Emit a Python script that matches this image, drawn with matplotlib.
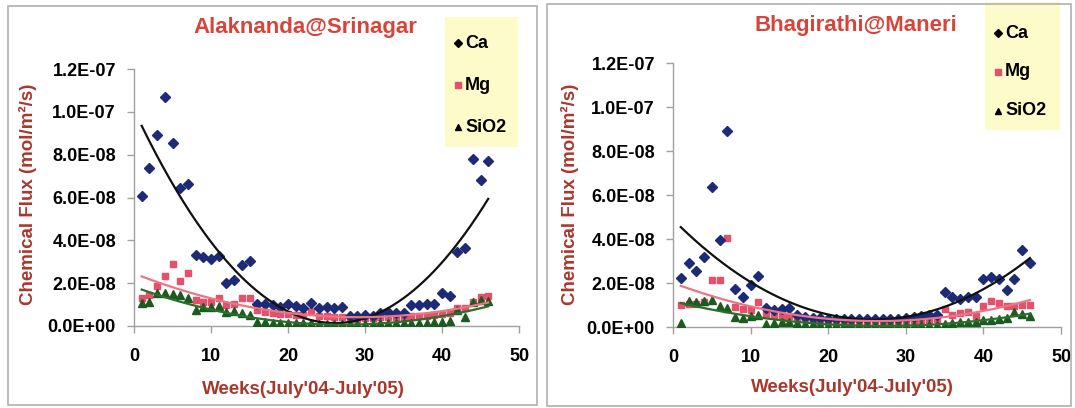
import numpy as np
import matplotlib
matplotlib.use("Agg")
import matplotlib.pyplot as plt
from matplotlib.lines import Line2D
from matplotlib.patches import Rectangle
from matplotlib.ticker import FuncFormatter

plt.rcParams['font.family'] = ['Liberation Sans', 'DejaVu Sans']
plt.rcParams['font.weight'] = 'bold'

# ---------------- data (values in units of 1e-8 mol/m2/s) ----------------
weeks = np.arange(1, 47)

ala_ca = [6.06, 7.36, 8.90, 10.67, 8.53, 6.45, 6.64, 3.30, 3.20, 3.12,
          3.28, 2.00, 2.16, 2.86, 3.02, 1.03, 1.03, 0.98, 0.90, 1.03,
          0.94, 0.83, 1.06, 0.83, 0.87, 0.83, 0.90, 0.47, 0.47, 0.52,
          0.47, 0.59, 0.64, 0.59, 0.59, 0.98, 0.98, 1.03, 1.03, 1.53,
          1.38, 3.44, 3.64, 7.78, 6.80, 7.70]
ala_mg = [1.33, 1.45, 1.87, 2.34, 2.90, 2.08, 2.47, 1.21, 1.13, 1.10,
          1.30, 1.00, 1.05, 1.29, 1.29, 0.75, 0.65, 0.60, 0.55, 0.55,
          0.50, 0.50, 0.68, 0.45, 0.45, 0.42, 0.42, 0.35, 0.35, 0.38,
          0.38, 0.40, 0.40, 0.42, 0.42, 0.45, 0.45, 0.45, 0.50, 0.55,
          0.60, 0.83, 0.83, 1.10, 1.35, 1.38]
ala_si = [1.06, 1.14, 1.56, 1.53, 1.48, 1.45, 1.30, 0.75, 0.87, 0.87,
          0.95, 0.67, 0.72, 0.62, 0.52, 0.20, 0.18, 0.16, 0.15, 0.15,
          0.14, 0.14, 0.12, 0.10, 0.10, 0.10, 0.10, 0.08, 0.08, 0.10,
          0.10, 0.12, 0.12, 0.14, 0.14, 0.15, 0.15, 0.16, 0.18, 0.20,
          0.22, 0.75, 0.42, 1.14, 1.20, 1.17]

bha_ca = [2.25, 2.90, 2.55, 3.19, 6.38, 3.95, 8.91, 1.75, 1.37, 1.90,
          2.32, 0.87, 0.79, 0.84, 0.87, 0.55, 0.45, 0.40, 0.40, 0.38,
          0.36, 0.35, 0.35, 0.35, 0.35, 0.35, 0.36, 0.37, 0.38, 0.40,
          0.45, 0.50, 0.55, 0.55, 1.59, 1.37, 1.29, 1.37, 1.37, 2.16,
          2.28, 2.20, 1.70, 2.20, 3.52, 2.89]
bha_mg = [0.99, 1.05, 1.06, 1.14, 2.13, 2.13, 4.05, 0.91, 0.80, 0.76,
          1.14, 0.60, 0.55, 0.50, 0.50, 0.40, 0.35, 0.30, 0.25, 0.22,
          0.20, 0.20, 0.20, 0.20, 0.20, 0.20, 0.22, 0.22, 0.24, 0.25,
          0.28, 0.30, 0.32, 0.35, 0.84, 0.53, 0.65, 0.68, 0.50, 0.94,
          1.18, 1.11, 0.94, 0.94, 0.99, 0.99]
bha_si = [0.18, 1.18, 1.14, 1.18, 1.25, 0.94, 0.88, 0.46, 0.41, 0.49,
          0.53, 0.15, 0.20, 0.25, 0.25, 0.20, 0.15, 0.12, 0.10, 0.08,
          0.08, 0.07, 0.07, 0.07, 0.07, 0.07, 0.07, 0.08, 0.08, 0.08,
          0.10, 0.10, 0.10, 0.10, 0.15, 0.20, 0.22, 0.25, 0.25, 0.30,
          0.30, 0.35, 0.40, 0.68, 0.58, 0.50]

series_names = ["Ca", "Mg", "SiO2"]
titles = ["Alaknanda@Srinagar", "Bhagirathi@Maneri"]
xlabel = "Weeks(July'04-July'05)"
ylabel = "Chemical Flux (mol/m\u00b2/s)"
scale = 1e-8

# ---------------- styling ----------------
W, H = 1075, 408
fig = plt.figure(figsize=(W / 100, H / 100), dpi=100)
fig.patch.set_facecolor("white")

C_CA = "#1c2a78"
C_MG = "#e5506a"
C_SI = "#1b5a20"
C_CA_T = "#101010"
C_MG_T = "#ec7584"
C_SI_T = "#2c6e2c"
TITLE_C = "#d8443a"
LABEL_C = "#a8382e"
AX_C = "#a0a0a0"


def px_rect(x0, y0, x1, y1):
    return [x0 / W, 1 - y1 / H, (x1 - x0) / W, (y1 - y0) / H]


def fmt(v, pos):
    return f"{v:.1E}"


def panel(axpos, ca, mg, si, frame, title_xy, ylab_x, xlab_xy, leg_box, leg_y, title):
    # outer frame
    fr = Rectangle((frame[0] / W, 1 - frame[3] / H), (frame[2] - frame[0]) / W,
                   (frame[3] - frame[1]) / H, transform=fig.transFigure,
                   fill=False, edgecolor="#b0b0b0", linewidth=1.2)
    fig.patches.append(fr)

    ax = fig.add_axes(axpos)
    w = weeks
    ca_v = np.array(ca) * scale
    mg_v = np.array(mg) * scale
    si_v = np.array(si) * scale
    ax.plot(w, ca_v, linestyle="none", marker="D", ms=4.8, color=C_CA, zorder=3)
    ax.plot(w, mg_v, linestyle="none", marker="s", ms=4.8, color=C_MG, zorder=2)
    ax.plot(w, si_v, linestyle="none", marker="^", ms=5.4, color=C_SI, zorder=4)
    xs = np.linspace(w[0], w[-1], 200)
    for vals, col in ((ca_v, C_CA_T), (mg_v, C_MG_T), (si_v, C_SI_T)):
        coef = np.polyfit(w, vals, 2)
        ax.plot(xs, np.polyval(coef, xs), color=col, lw=1.6, zorder=5)

    ax.set_xlim(0, 50)
    ax.set_ylim(0, 1.2e-7)
    ax.set_xticks(np.arange(0, 51, 10))
    ax.set_yticks(np.arange(0, 1.21e-7, 2e-8))
    ax.yaxis.set_major_formatter(FuncFormatter(fmt))
    for s in ("top", "right"):
        ax.spines[s].set_visible(False)
    for s in ("left", "bottom"):
        ax.spines[s].set_color(AX_C)
        ax.spines[s].set_linewidth(1.0)
    ax.tick_params(axis="both", colors=AX_C, length=5, width=1.0, direction="out",
                   labelsize=13, labelcolor="black")
    ax.tick_params(axis="x", pad=11)
    ax.tick_params(axis="y", pad=8)
    for lab in ax.get_xticklabels() + ax.get_yticklabels():
        lab.set_fontweight("bold")

    fig.text(title_xy[0] / W, 1 - title_xy[1] / H, title, ha="center", va="center",
             fontsize=16, fontweight="bold", color=TITLE_C)
    fig.text(ylab_x / W, 1 - 194 / H, ylabel, ha="center", va="center", rotation=90,
             fontsize=13.5, fontweight="bold", color=LABEL_C)
    fig.text(xlab_xy[0] / W, 1 - xlab_xy[1] / H, xlabel, ha="center", va="center",
             fontsize=13.5, fontweight="bold", color=LABEL_C)

    # legend box
    lb = Rectangle((leg_box[0] / W, 1 - leg_box[3] / H), (leg_box[2] - leg_box[0]) / W,
                   (leg_box[3] - leg_box[1]) / H, transform=fig.transFigure,
                   facecolor="#fdfbc9", edgecolor="none", zorder=0)
    fig.patches.append(lb)
    markers = [("D", "black", 4.0), ("s", C_MG, 4.2), ("^", "black", 4.6)]
    for (mk, col, ms), name, yy in zip(markers, series_names, leg_y):
        fig.lines.append(Line2D([(leg_box[0] + 13) / W], [1 - yy / H], marker=mk, color=col,
                                ms=ms, linestyle="none", transform=fig.transFigure))
        fig.text((leg_box[0] + 20) / W, 1 - yy / H, name, ha="left", va="center",
                 fontsize=13, fontweight="bold", color="black")
    return ax


panel(px_rect(134, 69, 519, 326), ala_ca, ala_mg, ala_si,
      frame=(8, 6, 537, 405), title_xy=(305, 27), ylab_x=28, xlab_xy=(303, 390),
      leg_box=(445, 17, 518, 147), leg_y=(43, 85, 127), title=titles[0])
panel(px_rect(673, 63, 1061, 327), bha_ca, bha_mg, bha_si,
      frame=(547, 4, 1071, 406), title_xy=(856, 25), ylab_x=570, xlab_xy=(852, 388),
      leg_box=(985, 2, 1060, 130), leg_y=(33, 72, 111), title=titles[1])

fig.savefig("out.png", dpi=100, facecolor="white")
